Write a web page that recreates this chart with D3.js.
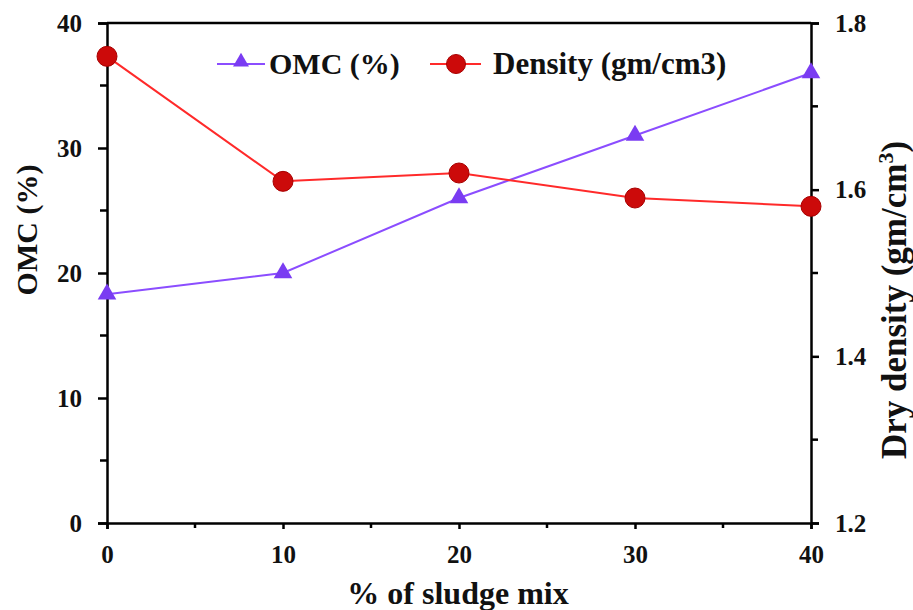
<!DOCTYPE html>
<html>
<head>
<meta charset="utf-8">
<script src="https://cdn.jsdelivr.net/npm/d3@7"></script>
<style>
  body { margin: 0; background: #fff; }
  svg text { font-family: "Liberation Serif", "Times New Roman", serif; font-weight: bold; fill: #111; }
</style>
</head>
<body>
<div id="chart"></div>
<script>

// data
let sludge = [0, 10, 20, 30, 40];
let omc = [18.3, 20, 26, 31, 36];
let density = [1.76, 1.61, 1.62, 1.59, 1.58];

let xTicks = [0, 10, 20, 30, 40];
let leftTicks = [0, 10, 20, 30, 40];
let rightTicks = [1.2, 1.4, 1.6, 1.8];

let width = 913, height = 610;
let margin = {top: 23, right: 102, bottom: 87, left: 107};

let svg = d3.select("#chart")
            .append("svg")
            .attr("width", width)
            .attr("height", height);

let x = d3.scaleLinear().domain([0, 40]).range([margin.left, width - margin.right]);
let yL = d3.scaleLinear().domain([0, 40]).range([height - margin.bottom, margin.top]);
let yR = d3.scaleLinear().domain([1.2, 1.8]).range([height - margin.bottom, margin.top]);

// frame top line
svg.append("line")
   .attr("x1", x(0)).attr("x2", x(40))
   .attr("y1", yL(40)).attr("y2", yL(40))
   .attr("stroke", "#000").attr("stroke-width", 2.5);

function styleAxis(g){
    g.attr("font-family", "Liberation Serif");
    g.select(".domain").attr("stroke", "#000").attr("stroke-width", 2.5);
    g.selectAll(".tick line").attr("stroke", "#000").attr("stroke-width", 2.5);
    g.selectAll(".tick text").style("font-size", "25px");
}

// minor ticks
let minorX = [5, 15, 25, 35];
let minorL = [5, 15, 25, 35];
let minorR = [1.3, 1.5, 1.7];

let gx = svg.append("g")
    .attr("transform", `translate(0,${height - margin.bottom})`)
    .call(d3.axisBottom(x).tickValues(xTicks).tickSize(6).tickPadding(16).tickFormat(d3.format("d")));
styleAxis(gx);
gx.selectAll(".minor").data(minorX).join("line")
  .attr("x1", d => x(d)).attr("x2", d => x(d))
  .attr("y1", 0).attr("y2", 5)
  .attr("stroke", "#000").attr("stroke-width", 2.5);

let gl = svg.append("g")
    .attr("transform", `translate(${margin.left},0)`)
    .call(d3.axisLeft(yL).tickValues(leftTicks).tickSize(9).tickPadding(16).tickFormat(d3.format("d")));
styleAxis(gl);
gl.selectAll(".minor").data(minorL).join("line")
  .attr("x1", -7).attr("x2", 0)
  .attr("y1", d => yL(d)).attr("y2", d => yL(d))
  .attr("stroke", "#000").attr("stroke-width", 2.5);

let gr = svg.append("g")
    .attr("transform", `translate(${width - margin.right},0)`)
    .call(d3.axisRight(yR).tickValues(rightTicks).tickSize(8).tickPadding(16).tickFormat(d3.format(".1f")));
styleAxis(gr);
gr.selectAll(".minor").data(minorR).join("line")
  .attr("x1", 0).attr("x2", 7)
  .attr("y1", d => yR(d)).attr("y2", d => yR(d))
  .attr("stroke", "#000").attr("stroke-width", 2.5);

// lines
let omcColor = "#8b4dff", omcMarker = "#7a3cf2";
let denColor = "#ff2a2a", denMarker = "#cc0a0a";

let lineL = d3.line().x((d, i) => x(sludge[i])).y(d => yL(d));
let lineR = d3.line().x((d, i) => x(sludge[i])).y(d => yR(d));

svg.append("path").datum(omc)
   .attr("d", lineL).attr("fill", "none")
   .attr("stroke", omcColor).attr("stroke-width", 2);

svg.append("path").datum(density)
   .attr("d", lineR).attr("fill", "none")
   .attr("stroke", denColor).attr("stroke-width", 2);

let tri = d3.symbol().type(d3.symbolTriangle).size(150);

svg.selectAll(".omcpt").data(omc).join("path")
   .attr("transform", (d, i) => `translate(${x(sludge[i])},${yL(d)})`)
   .attr("d", tri)
   .attr("fill", omcMarker);

svg.selectAll(".denpt").data(density).join("circle")
   .attr("cx", (d, i) => x(sludge[i]))
   .attr("cy", d => yR(d))
   .attr("r", 10)
   .attr("fill", denMarker)
   .attr("stroke", "#a80000").attr("stroke-width", 1);

// legend
let legY = 64;
let leg1 = svg.append("g");
leg1.append("line").attr("x1", 217).attr("x2", 265).attr("y1", legY).attr("y2", legY)
    .attr("stroke", omcColor).attr("stroke-width", 2);
leg1.append("path").attr("transform", `translate(241,${legY - 2})`)
    .attr("d", d3.symbol().type(d3.symbolTriangle).size(110)).attr("fill", omcMarker);
leg1.append("text").attr("x", 269).attr("y", legY + 10).style("font-size", "30px").text("OMC (%)");

let leg2 = svg.append("g");
leg2.append("line").attr("x1", 430).attr("x2", 481).attr("y1", legY).attr("y2", legY)
    .attr("stroke", denColor).attr("stroke-width", 2);
leg2.append("circle").attr("cx", 456).attr("cy", legY).attr("r", 9.5)
    .attr("fill", denMarker).attr("stroke", "#a80000");
leg2.append("text").attr("x", 493).attr("y", legY + 10).style("font-size", "31px").text("Density (gm/cm3)");

// axis titles
svg.append("text")
   .attr("x", 458).attr("y", 604)
   .attr("text-anchor", "middle").style("font-size", "32px")
   .text("% of sludge mix");

svg.append("text")
   .attr("transform", `translate(37,230) rotate(-90)`)
   .attr("text-anchor", "middle").style("font-size", "30px")
   .text("OMC (%)");

let rt = svg.append("text")
   .attr("transform", `translate(906,300) rotate(-90)`)
   .attr("text-anchor", "middle").style("font-size", "35px");
rt.append("tspan").text("Dry density (gm/cm");
rt.append("tspan").attr("dy", -13).style("font-size", "22px").text("3");
rt.append("tspan").attr("dy", 13).text(")");

</script>
</body>
</html>
